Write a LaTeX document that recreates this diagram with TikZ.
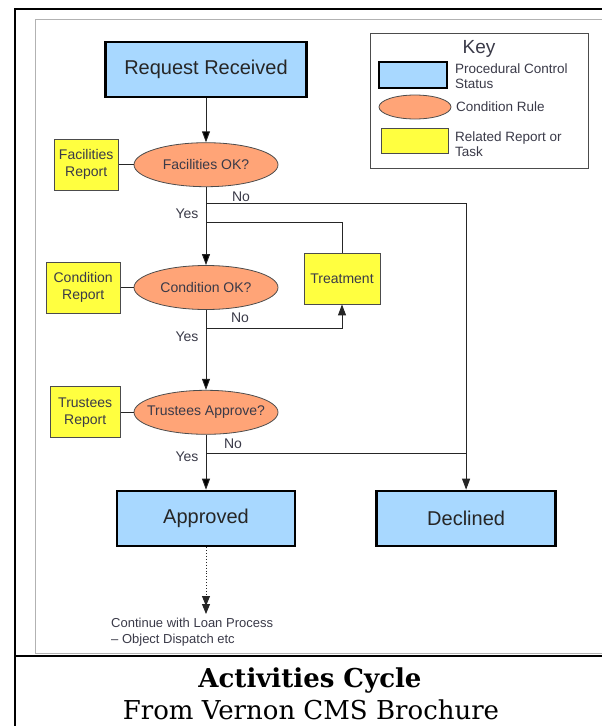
\documentclass[tikz,border=0pt]{standalone}
\usepackage{fontspec}
\setmainfont{DejaVu Serif}
\setsansfont{Liberation Sans}
\usetikzlibrary{shapes,arrows.meta}
\usetikzlibrary{positioning}
\usepackage{xcolor}
\definecolor{statusblue}{HTML}{A8D8FF}
\definecolor{rulesalmon}{HTML}{FFA477}
\definecolor{taskyellow}{HTML}{FFFF40}
\definecolor{inkgrey}{HTML}{3A3A48}

\begin{document}
\begin{tikzpicture}[x=1pt, y=-1pt, >={Triangle[width=8pt,length=11pt]},
    status/.style={draw=black, line width=2.6pt, fill=statusblue, minimum width=178pt, minimum height=55pt,
      font=\sffamily\fontsize{20}{24}\selectfont, text=black!85},
    rule/.style={ellipse, draw=black!70, line width=0.8pt, fill=rulesalmon, minimum width=144pt, minimum height=44pt,
      inner xsep=-12pt, inner ysep=0pt, font=\sffamily\fontsize{14}{17}\selectfont, text=inkgrey},
    task/.style={draw=black!70, line width=0.8pt, fill=taskyellow, minimum height=51pt, inner sep=2pt, align=center,
      font=\sffamily\fontsize{14}{17}\selectfont, text=inkgrey},
    lbl/.style={font=\sffamily\fontsize{14}{17}\selectfont, text=inkgrey, inner sep=0pt},
    keytext/.style={anchor=west, align=left, inner sep=0pt, font=\sffamily\fontsize{13.5}{15}\selectfont, text=inkgrey},
    flow/.style={draw=black!85, line width=0.9pt}]
    \useasboundingbox (0,0) rectangle (602,726);

    % Page frame and caption
    \draw[black, line width=1.4pt] (15,9) rectangle (640,780);
    \draw[black!30, line width=0.8pt] (35,19) rectangle (640,653);
    \draw[black, line width=1.8pt] (15,656) -- (640,656);
    \node[anchor=base, font=\rmfamily\bfseries\fontsize{26}{31}\selectfont] (title) at (310,687) {Activities Cycle};
    \node[anchor=base, font=\rmfamily\fontsize{26}{31}\selectfont] (source) at (311,719) {From Vernon CMS Brochure};

    % Main flow
    \node[status, minimum width=201pt] (req) at (206,69.5) {Request Received};
    \node[rule] (fac) [below=44pt of req] {Facilities OK?};
    \node[rule] (cond) [below=78pt of fac] {Condition OK?};
    \node[rule] (trus) [below=80pt of cond] {Trustees Approve?};
    \node[status] (appr) [below=55pt of trus] {Approved};
    \node[status, minimum width=179pt] (decl) [right=79pt of appr] {Declined};

    % Reports and task
    \node[task, minimum width=64pt] (facrep) [left=15pt of fac] {Facilities\\Report};
    \node[task, minimum width=74pt] (condrep) [left=13pt of cond] {Condition\\Report};
    \node[task, minimum width=70pt] (trusrep) [left=13pt of trus] {Trustees\\Report};
    \node[task, minimum width=76pt] (treat) at (342,278.5) {Treatment};

    \coordinate (facno) at (206,203);
    \coordinate (treatback) at (206,222);
    \coordinate (condno) at (206,328);
    \coordinate (trusno) at (206,453);
    \coordinate (cont) at (206,614);

    \path[flow, ->]
    (req) edge (fac)
    (fac) edge (cond)
    (cond) edge (trus)
    (trus) edge (appr);
    \draw[flow, ->] (facno) -| (decl);
    \draw[flow] (treatback) -| (treat);
    \draw[flow, ->] (condno) -| (treat);
    \draw[flow] (trusno) -- (trusno -| decl);
    \draw[flow] (facrep) -- (fac);
    \draw[flow] (condrep) -- (cond);
    \draw[flow] (trusrep) -- (trus);
    \draw[flow, dotted, -{Triangle[width=8pt,length=10pt,sep=-2pt]Triangle[width=8pt,length=10pt]}] (appr) -- (cont);

    % Yes / No labels
    \node[lbl] (facnolbl) at (241,197) {No};
    \node[lbl] (facyeslbl) at (187,214) {Yes};
    \node[lbl] (condnolbl) at (240,318) {No};
    \node[lbl] (condyeslbl) at (187,337) {Yes};
    \node[lbl] (trusnolbl) at (233,444) {No};
    \node[lbl] (trusyeslbl) at (187,457) {Yes};

    \node[anchor=north west, align=left, inner sep=0pt, font=\sffamily\fontsize{13}{16}\selectfont, text=inkgrey]
      (conttext) at (111,618) {Continue with Loan Process\\– Object Dispatch etc};

    % Key
    \node[draw=black!70, line width=0.8pt, minimum width=218pt, minimum height=135pt] (key) at (479,100.5) {};
    \node[font=\sffamily\fontsize{19}{22}\selectfont, text=inkgrey] (keytitle) at (479,49) {Key};
    \node[status, line width=2.4pt, minimum width=68pt, minimum height=26pt] (keystatus) at (413,75) {};
    \node[rule, minimum width=72pt, minimum height=24pt] (keyrule) at (415,107) {};
    \node[task, minimum width=67pt, minimum height=25pt] (keytask) at (414.5,140.5) {};
    \node[keytext] (keystatustext) at (455,76) {Procedural Control\\Status};
    \node[keytext] (keyruletext) at (456,107) {Condition Rule};
    \node[keytext] (keytasktext) at (455,144) {Related Report or\\Task};
  \end{tikzpicture}
\end{document}
